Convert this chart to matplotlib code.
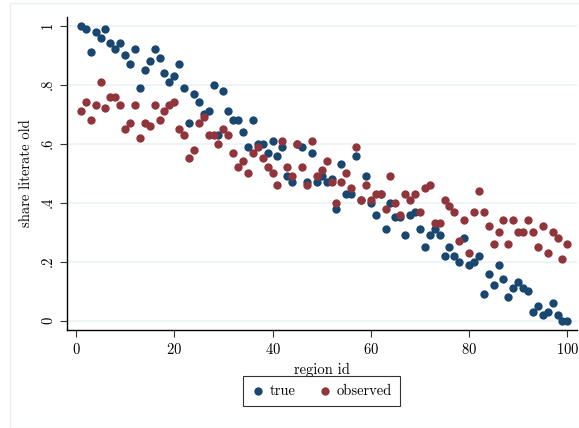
import numpy as np
import matplotlib.pyplot as plt
from matplotlib.patches import Rectangle

plt.rcParams['font.family'] = ['cmr10', 'DejaVu Serif']
plt.rcParams['axes.formatter.use_mathtext'] = True

# --- data ---
region_id = np.arange(1, 101)

share_true = [
    1.00, 0.99, 0.91, 0.98, 0.96, 0.99, 0.94, 0.92, 0.94, 0.90,
    0.87, 0.92, 0.79, 0.85, 0.88, 0.92, 0.89, 0.84, 0.81, 0.83,
    0.87, 0.79, 0.67, 0.77, 0.74, 0.70, 0.71, 0.80, 0.63, 0.78,
    0.71, 0.68, 0.68, 0.64, 0.59, 0.68, 0.60, 0.60, 0.57, 0.61,
    0.56, 0.59, 0.49, 0.47, 0.60, 0.59, 0.47, 0.57, 0.47, 0.49,
    0.47, 0.48, 0.38, 0.53, 0.43, 0.43, 0.56, 0.41, 0.49, 0.40,
    0.36, 0.43, 0.31, 0.40, 0.35, 0.35, 0.29, 0.36, 0.37, 0.31,
    0.25, 0.29, 0.31, 0.29, 0.22, 0.25, 0.22, 0.20, 0.28, 0.19,
    0.20, 0.22, 0.09, 0.16, 0.12, 0.19, 0.14, 0.08, 0.11, 0.13,
    0.11, 0.10, 0.03, 0.05, 0.02, 0.03, 0.06, 0.02, 0.00, 0.00,
]

share_observed = [
    0.71, 0.74, 0.68, 0.73, 0.81, 0.72, 0.76, 0.76, 0.73, 0.65,
    0.67, 0.73, 0.62, 0.67, 0.66, 0.73, 0.68, 0.71, 0.73, 0.74,
    0.65, 0.63, 0.55, 0.58, 0.67, 0.69, 0.63, 0.63, 0.60, 0.65,
    0.63, 0.57, 0.52, 0.54, 0.50, 0.57, 0.59, 0.55, 0.52, 0.50,
    0.46, 0.61, 0.52, 0.49, 0.60, 0.52, 0.46, 0.61, 0.49, 0.51,
    0.54, 0.47, 0.40, 0.47, 0.50, 0.45, 0.59, 0.41, 0.46, 0.41,
    0.43, 0.43, 0.38, 0.49, 0.40, 0.36, 0.43, 0.41, 0.43, 0.37,
    0.45, 0.46, 0.33, 0.33, 0.41, 0.39, 0.37, 0.27, 0.34, 0.23,
    0.37, 0.44, 0.37, 0.32, 0.26, 0.30, 0.34, 0.26, 0.34, 0.30,
    0.30, 0.34, 0.30, 0.25, 0.32, 0.23, 0.30, 0.28, 0.21, 0.26,
]

y_ticks = [0, 0.2, 0.4, 0.6, 0.8, 1.0]
y_tick_labels = ['0', '.2', '.4', '.6', '.8', '1']
x_ticks = [0, 20, 40, 60, 80, 100]

navy = '#1a476f'
maroon = '#90353b'

fig = plt.figure(figsize=(5.79, 4.28), dpi=100)
fig.patches.append(Rectangle((10 / 579, 0), 1, 1 - 3 / 428, transform=fig.transFigure,
                             fill=False, edgecolor='#e9eef0', linewidth=1))
ax = fig.add_axes([67 / 579, 98 / 428, 509.7 / 579, 313 / 428])

ax.scatter(region_id, share_true, s=36, color=navy, linewidths=0, label='true', zorder=3)
ax.scatter(region_id, share_observed, s=36, color=maroon, linewidths=0, label='observed', zorder=3)

# --- Styling (Stata-like) ---
ax.set_xlim(-1.83, 101.9)
ax.set_ylim(-0.0315, 1.0295)
ax.set_xticks(x_ticks)
ax.set_yticks(y_ticks)
ax.set_yticklabels(y_tick_labels, rotation=90, va='center')
ax.tick_params(direction='out', length=5, width=0.8, labelsize=10.5, color='#333333')
ax.grid(axis='y', color='#eaf2f3', linewidth=1.2, zorder=0)
ax.set_axisbelow(True)
for side in ['top', 'right']:
    ax.spines[side].set_visible(False)
for side in ['left', 'bottom']:
    ax.spines[side].set_linewidth(1.0)

ax.set_xlabel('region id', fontsize=10.5, labelpad=4)
ax.set_ylabel('share literate old', fontsize=10.5, labelpad=6)

leg = fig.legend(loc='center', bbox_to_anchor=(321.5 / 579, 1 - 391 / 428), ncol=2,
                 fontsize=10.5, frameon=True, fancybox=False, edgecolor='black',
                 handletextpad=0.3, columnspacing=1.5, borderpad=0.55, handlelength=1.0,
                 markerscale=1.0)
leg.get_frame().set_linewidth(0.8)

fig.savefig('out.png', dpi=100, facecolor='white')
